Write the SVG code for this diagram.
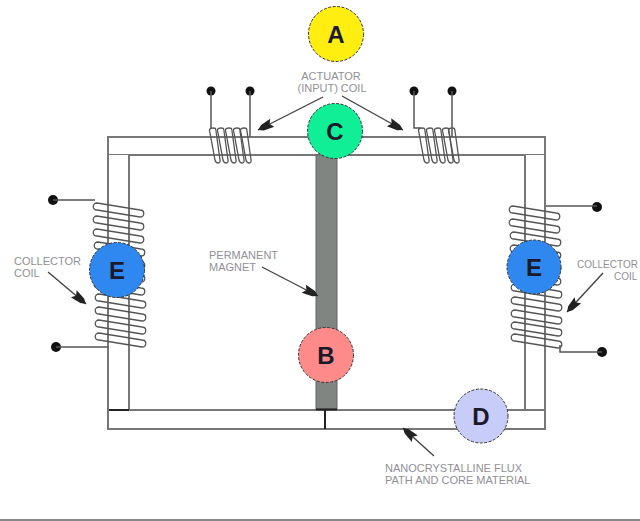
<svg xmlns="http://www.w3.org/2000/svg" width="640" height="521" viewBox="0 0 640 521">
<style>
.bar{fill:#fff;stroke:#777;stroke-width:2}
.wire{fill:none;stroke:#555;stroke-width:1.5}
.coil{fill:none;stroke:#555;stroke-width:1.3}
.dot{fill:#111}
.node{stroke:#333;stroke-width:1;stroke-dasharray:3 1.5}
.letter{font:bold 24px "Liberation Sans",Arial,sans-serif;fill:#1a1a2a;text-anchor:middle}
.label{font:11px "Liberation Sans",Arial,sans-serif;fill:#909096}
.small{font-size:10px}
.arrow{fill:none;stroke:#444;stroke-width:1.4;marker-end:url(#head)}
</style>
<defs>
<marker id="head" markerUnits="userSpaceOnUse" markerWidth="20" markerHeight="12" refX="17" refY="5" orient="auto">
<path d="M1 0.500L12 2L17 5L12 8L1 9.500L4 5Z" fill="#222"/>
</marker>
<path id="turn" class="coil" d="M3 0C-2 0 -2 7 3 7L46 14C51 14 51 7 46 7Z"/>
<path id="vturn" class="coil" d="M1 0C-3 0 -3 2 -2 5L3 32C4 36 9 36 8 32L4 3C4 0 3 0 1 0Z"/>
</defs>
<rect width="640" height="521" fill="#fff"/>
<g id="core">
<rect class="bar" x="108" y="137" width="437" height="18"/>
<path class="bar" d="M108 155V410H129V155"/>
<path class="bar" d="M525 155V410H545V155"/>
<rect class="bar" x="108" y="410" width="437" height="19"/>
<path d="M109 410H129" stroke="#222" stroke-width="2"/>
<path d="M325 410V429" stroke="#222" stroke-width="2"/>
</g>
<g id="magnet"><rect x="316" y="155" width="21" height="254" fill="#808582" stroke="#666"/><path d="M316 409.500H337" stroke="#222" stroke-width="2"/></g>
<g id="connectors">
<path class="arrow" d="M323 97L258 130"/>
<path class="arrow" d="M342 96L403 130"/>
<path class="arrow" d="M48 272L86 304"/>
<path class="arrow" d="M603 273L567 312"/>
<path class="arrow" d="M262 267L318 296"/>
<path class="arrow" d="M434 456L403 428"/>
</g>
<g id="coil-top-left">
<circle class="dot" cx="211" cy="91" r="4.500"/><circle class="dot" cx="250" cy="91" r="4.500"/>
<path class="wire" d="M211 91V129M250 91V137"/>
<use href="#vturn" x="212" y="128"/><use href="#vturn" x="220" y="128"/><use href="#vturn" x="228" y="128"/><use href="#vturn" x="236" y="128"/><use href="#vturn" x="243" y="128"/>
</g>
<g id="coil-top-right">
<circle class="dot" cx="414" cy="91" r="4.500"/><circle class="dot" cx="452" cy="91" r="4.500"/>
<path class="wire" d="M414 91V128H421M452 91V137"/>
<use href="#vturn" x="421" y="128"/><use href="#vturn" x="429" y="128"/><use href="#vturn" x="437" y="128"/><use href="#vturn" x="445" y="128"/><use href="#vturn" x="451" y="128"/>
</g>
<g id="coil-left">
<circle class="dot" cx="53" cy="200" r="5"/><circle class="dot" cx="56" cy="347" r="5"/>
<path class="wire" d="M53 200H95M56 347H108"/>
<use href="#turn" x="94" y="203"/><use href="#turn" x="94" y="216"/><use href="#turn" x="94" y="229"/><use href="#turn" x="95" y="242"/><use href="#turn" x="95" y="255"/><use href="#turn" x="95" y="268"/><use href="#turn" x="95" y="281"/><use href="#turn" x="96" y="294"/><use href="#turn" x="96" y="307"/><use href="#turn" x="96" y="320"/><use href="#turn" x="96" y="333"/>
</g>
<g id="coil-right">
<circle class="dot" cx="597" cy="207" r="5"/><circle class="dot" cx="602" cy="352" r="5"/>
<path class="wire" d="M546 206H597M560 345V352H602"/>
<use href="#turn" x="510" y="206"/><use href="#turn" x="510" y="219"/><use href="#turn" x="511" y="232"/><use href="#turn" x="511" y="245"/><use href="#turn" x="511" y="258"/><use href="#turn" x="511" y="271"/><use href="#turn" x="512" y="284"/><use href="#turn" x="512" y="297"/><use href="#turn" x="512" y="310"/><use href="#turn" x="512" y="322"/><use href="#turn" x="512" y="334"/>
</g>
<g id="node-a"><circle class="node" cx="336" cy="34" r="27.500" fill="#ffee10"/><text class="letter" x="336" y="43">A</text></g>
<g id="node-c"><circle class="node" cx="335" cy="131" r="27.500" fill="#10ee96"/><text class="letter" x="335" y="140">C</text></g>
<g id="node-e-left"><circle class="node" cx="117" cy="270" r="27.500" fill="#2f88f0"/><text class="letter" x="117" y="279">E</text></g>
<g id="node-e-right"><circle class="node" cx="534" cy="267" r="27" fill="#2f88f0"/><text class="letter" x="534" y="276">E</text></g>
<g id="node-b"><circle class="node" cx="326" cy="355" r="27.500" fill="#ff8a8a"/><text class="letter" x="326" y="364">B</text></g>
<g id="node-d"><circle class="node" cx="481" cy="416" r="27" fill="#c8ccf8"/><text class="letter" x="481" y="425">D</text></g>
<g id="labels">
<text class="label" x="331" y="80" text-anchor="middle">ACTUATOR</text>
<text class="label" x="332" y="92" text-anchor="middle">(INPUT) COIL</text>
<text class="label" x="14" y="265">COLLECTOR</text>
<text class="label" x="14" y="277">COIL</text>
<text class="label small" x="577" y="268">COLLECTOR</text>
<text class="label small" x="614" y="280">COIL</text>
<text class="label" x="209" y="259">PERMANENT</text>
<text class="label" x="209" y="271">MAGNET</text>
<text class="label" x="385" y="472">NANOCRYSTALLINE FLUX</text>
<text class="label" x="385" y="484">PATH AND CORE MATERIAL</text>
</g>
<path id="rule" d="M0 520H640" stroke="#888" stroke-width="2"/>
</svg>
